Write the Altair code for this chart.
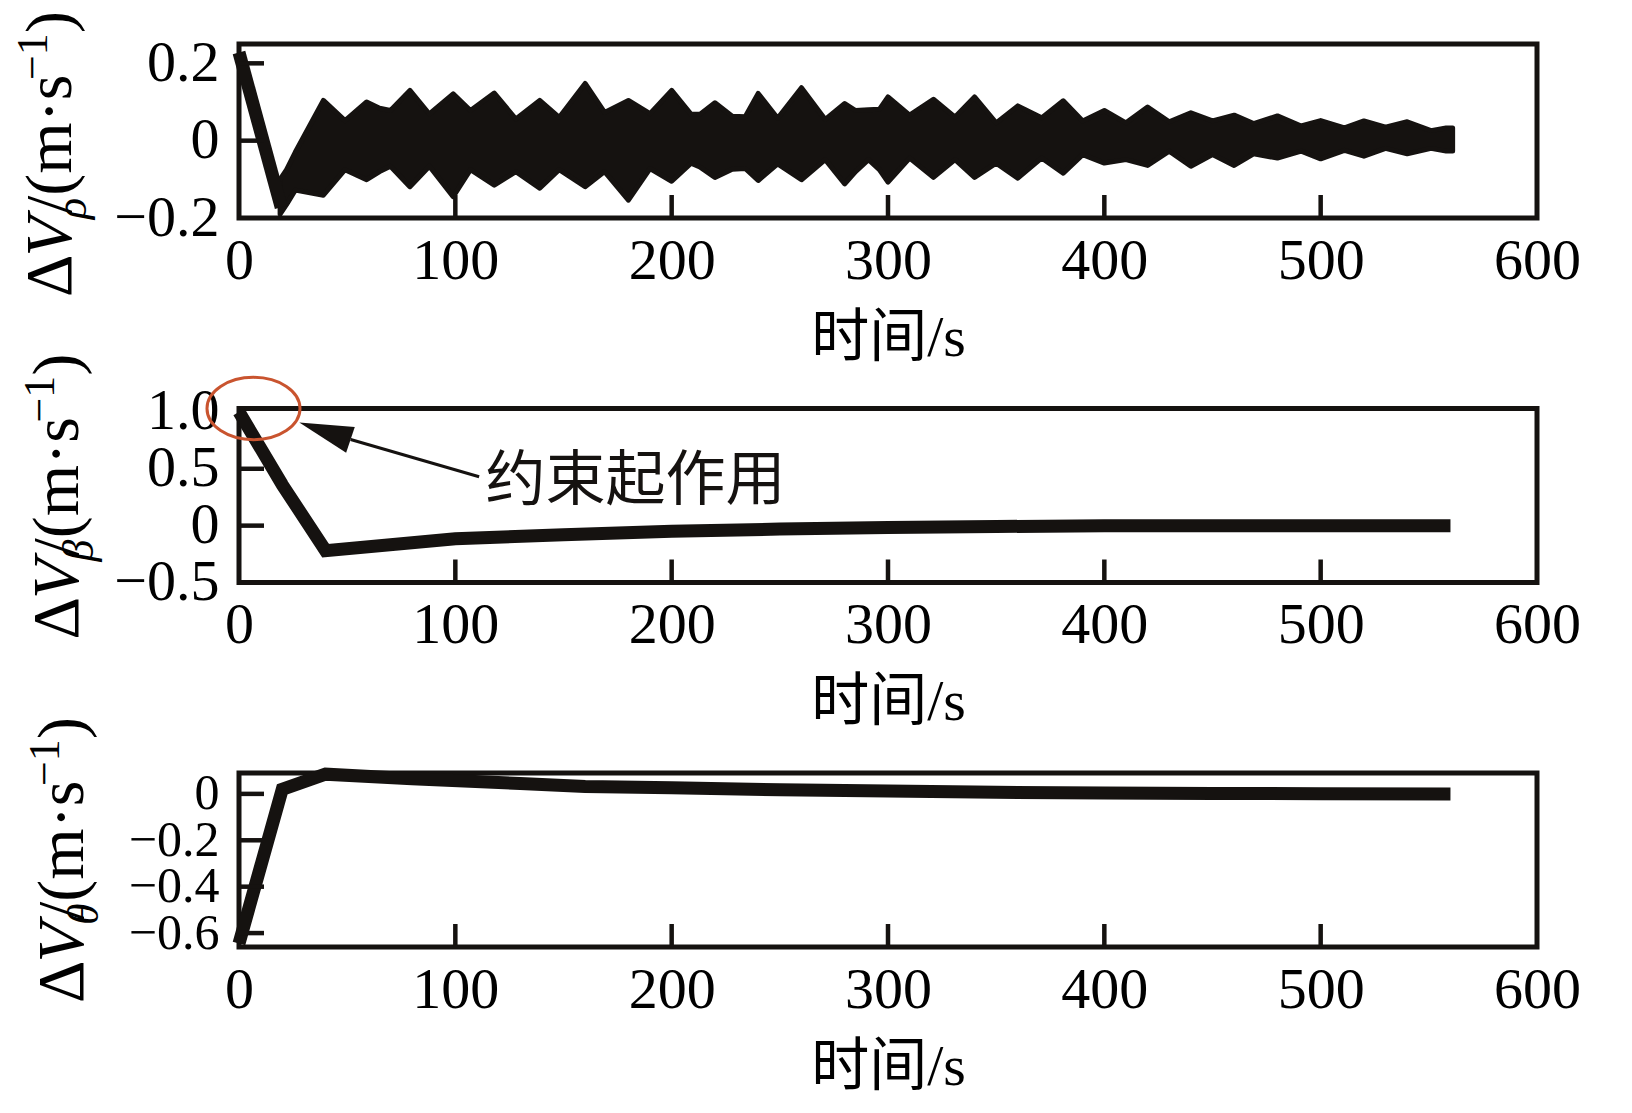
import altair as alt
import pandas as pd

SERIF = "Liberation Serif, Noto Sans CJK SC"
INK = "#151210"

# ---------------- data ----------------
t_band = [19, 22, 26, 39, 49, 59, 65, 70, 79, 88, 99, 107, 118, 128, 139, 148, 160, 169,
          180, 190, 200, 209, 213, 220, 228, 234, 240, 249, 260, 271, 280, 285, 291, 296,
          300, 310, 321, 331, 340, 350, 360, 371, 381, 390, 400, 410, 420, 430, 440, 450,
          460, 469, 480, 491, 500, 511, 520, 530, 540, 551, 558, 561]
v_upper = [-0.10, -0.075, -0.03, 0.104, 0.052, 0.100, 0.084, 0.078, 0.130, 0.069, 0.121, 0.078,
           0.123, 0.056, 0.104, 0.060, 0.148, 0.073, 0.104, 0.070, 0.130, 0.068, 0.068, 0.098,
           0.063, 0.062, 0.122, 0.058, 0.137, 0.055, 0.096, 0.078, 0.080, 0.081, 0.113, 0.066,
           0.107, 0.061, 0.113, 0.046, 0.090, 0.059, 0.103, 0.051, 0.078, 0.046, 0.087, 0.049,
           0.072, 0.051, 0.066, 0.044, 0.064, 0.038, 0.052, 0.033, 0.051, 0.035, 0.049, 0.026,
           0.033, 0.033]
v_lower = [-0.19, -0.165, -0.128, -0.141, -0.075, -0.101, -0.080, -0.066, -0.119, -0.066, -0.145,
           -0.075, -0.115, -0.080, -0.123, -0.075, -0.119, -0.080, -0.154, -0.072, -0.105, -0.058,
           -0.068, -0.095, -0.074, -0.072, -0.103, -0.060, -0.101, -0.049, -0.112, -0.080, -0.049,
           -0.075, -0.107, -0.045, -0.095, -0.049, -0.095, -0.058, -0.097, -0.045, -0.084, -0.036,
           -0.058, -0.049, -0.064, -0.027, -0.066, -0.036, -0.064, -0.034, -0.045, -0.027, -0.047,
           -0.025, -0.040, -0.020, -0.034, -0.020, -0.027, -0.027]
t_start = [0, 19.5]
v_start = [0.228, -0.172]

t_beta = [0, 20, 40, 100, 150, 200, 250, 300, 350, 400, 450, 500, 560]
v_beta = [1.0, 0.36, -0.22, -0.115, -0.08, -0.05, -0.03, -0.017, -0.008, 0.0, 0.0, 0.0, 0.0]

t_theta = [0, 20, 40, 80, 130, 160, 200, 250, 300, 350, 400, 450, 500, 560]
v_theta = [-0.645, 0.02, 0.085, 0.065, 0.045, 0.032, 0.026, 0.018, 0.012, 0.007, 0.004, 0.002,
           0.001, 0.0]

x_ticks = [0, 100, 200, 300, 400, 500, 600]
x_inner = [100, 200, 300, 400, 500]
y_ticks_rho, y_inner_rho, dom_rho = [-0.2, 0, 0.2], [0, 0.2], [-0.2, 0.25]
y_ticks_beta, y_inner_beta, dom_beta = [-0.5, 0, 0.5, 1.0], [0, 0.5], [-0.5, 1.03]
y_ticks_theta, y_inner_theta, dom_theta = [-0.6, -0.4, -0.2, 0], [-0.6, -0.4, -0.2, 0], [-0.66, 0.09]

x_title = "时间/s"
note_text = "约束起作用"
note_xy = [114, 0.38]
ellipse_xy = [6.7, 1.03]
arrow_tail = [111, 0.43]
arrow_base = [51.6, 0.757]
arrow_head = [39.7, 0.83]

# ---------------- layout ----------------
W, H = 1298, 174
xs = alt.Scale(domain=[0, 600], nice=False, zero=False)


def xaxis():
    return alt.Axis(values=x_ticks, format="d", ticks=False, domain=False, grid=False,
                    labelFont=SERIF, labelFontSize=58, labelColor="black", labelPadding=14,
                    labelFlush=False, labelOverlap=False,
                    title=x_title, titleFont=SERIF, titleFontSize=58, titleFontWeight="normal",
                    titleColor="black", titleBaseline="alphabetic", titleY=137)


def yaxis(vals, fmt, size=58, expr=None):
    kw = dict(values=vals, format=fmt, ticks=False, domain=False, grid=False,
              labelFont=SERIF, labelFontSize=size, labelColor="black", labelPadding=20,
              labelFlush=False, labelOverlap=False, title=None)
    if expr:
        kw["labelExpr"] = expr
    return alt.Axis(**kw)


def X(field="t"):
    return alt.X(field + ":Q", scale=xs, axis=xaxis())


def Y(field, sc, ax):
    return alt.Y(field + ":Q", scale=sc, axis=ax)


def inner_ticks(ys, ax, yin):
    xt = alt.Chart(pd.DataFrame({"t": x_inner})).mark_rule(color=INK, strokeWidth=4.5).encode(
        x=X(), y=alt.value(H), y2=alt.value(H - 23))
    yt = alt.Chart(pd.DataFrame({"v": yin})).mark_rule(color=INK, strokeWidth=4.5).encode(
        y=Y("v", ys, ax), x=alt.value(0), x2=alt.value(25))
    return [xt, yt]


def ytitle(sub, bx, by):
    F, S = 66, 44
    parts = [("Δ", 0, 0, F, "normal"), ("V", 40.4, 0, F, "italic"), (sub, 78, 15, S, "italic"),
             ("/(m·s", 83, 0, F, "normal"), ("\u22121", 217, -24, S, "normal"),
             (")", 264, 0, F, "normal")]
    one = pd.DataFrame({"k": [0]})
    out = []
    for txt, off, shift, size, style in parts:
        out.append(alt.Chart(one).mark_text(
            text=txt, angle=270, align="left", baseline="alphabetic", font=SERIF,
            fontSize=size, fontStyle=style, color="black").encode(
            x=alt.value(bx + shift), y=alt.value(by - off)))
    return out


# panel 1
ys1 = alt.Scale(domain=dom_rho, nice=False, zero=False)
ax1 = yaxis(y_ticks_rho, ".1~f")
band = alt.Chart(pd.DataFrame({"t": t_band, "hi": v_upper, "lo": v_lower})).mark_area(
    color=INK, stroke=INK, strokeWidth=5, strokeJoin="round", opacity=1).encode(
    x=X(), y=Y("hi", ys1, ax1), y2="lo:Q")
start = alt.Chart(pd.DataFrame({"t": t_start, "v": v_start})).mark_line(
    color=INK, strokeWidth=13).encode(x=X(), y=Y("v", ys1, ax1))
p1 = alt.layer(band, start, *inner_ticks(ys1, ax1, y_inner_rho),
               *ytitle("ρ", -168, 253)).properties(width=W, height=H)

# panel 2
ys2 = alt.Scale(domain=dom_beta, nice=False, zero=False)
ax2 = yaxis(y_ticks_beta, ".1f", expr="datum.value == 0 ? '0' : datum.label")
line2 = alt.Chart(pd.DataFrame({"t": t_beta, "v": v_beta})).mark_line(
    color=INK, strokeWidth=13).encode(x=X(), y=Y("v", ys2, ax2))
ellipse = alt.Chart(pd.DataFrame({"t": [ellipse_xy[0]], "v": [ellipse_xy[1]]})).mark_point(
    shape="M-1,0A1,0.67,0,1,1,1,0A1,0.67,0,1,1,-1,0Z", size=8650, filled=False,
    color="#c9542f", strokeWidth=3, opacity=1).encode(x=X(), y=Y("v", ys2, ax2))
arrow = alt.Chart(pd.DataFrame({"t": [arrow_tail[0]], "v": [arrow_tail[1]],
                                "t2": [arrow_base[0]], "v2": [arrow_base[1]]})).mark_rule(
    color=INK, strokeWidth=3).encode(x=X(), y=Y("v", ys2, ax2), x2="t2:Q", y2="v2:Q")
head = alt.Chart(pd.DataFrame({"t": [arrow_head[0]], "v": [arrow_head[1]]})).mark_point(
    shape="M0,-1L0.5,1L-0.5,1Z", size=2916, filled=True, color=INK, angle=288.7,
    opacity=1).encode(x=X(), y=Y("v", ys2, ax2))
note = alt.Chart(pd.DataFrame({"t": [note_xy[0]], "v": [note_xy[1]]})).mark_text(
    text=note_text, align="left", baseline="middle", font="Noto Sans CJK SC", fontSize=60,
    color=INK).encode(x=X(), y=Y("v", ys2, ax2))
p2 = alt.layer(line2, *inner_ticks(ys2, ax2, y_inner_beta), ellipse, arrow, head, note,
               *ytitle("β", -161, 231)).properties(width=W, height=H)

# panel 3
ys3 = alt.Scale(domain=dom_theta, nice=False, zero=False)
ax3 = yaxis(y_ticks_theta, ".1~f", size=50)
line3 = alt.Chart(pd.DataFrame({"t": t_theta, "v": v_theta})).mark_line(
    color=INK, strokeWidth=13).encode(x=X(), y=Y("v", ys3, ax3))
p3 = alt.layer(line3, *inner_ticks(ys3, ax3, y_inner_theta),
               *ytitle("θ", -156, 230)).properties(width=W, height=H)

chart = alt.vconcat(p1, p2, p3, spacing=190.5, bounds="flush").properties(
    padding={"left": 1, "top": 0, "right": 10, "bottom": 5}
).configure_view(stroke=INK, strokeWidth=5)

chart.save("out.html", embed_options={"renderer": "svg", "actions": False})
